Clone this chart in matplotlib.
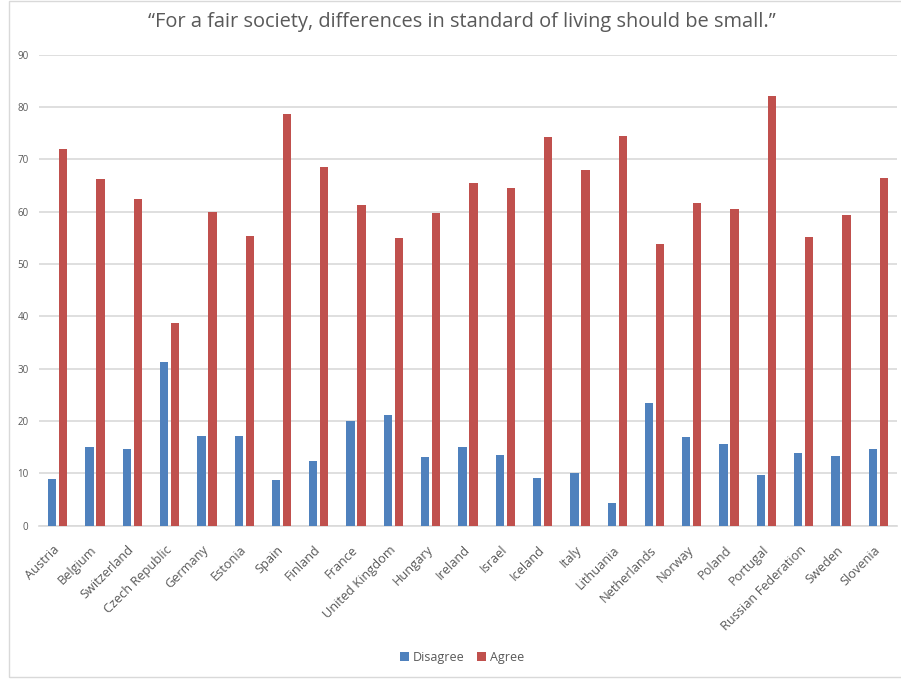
import matplotlib
matplotlib.use("Agg")
import matplotlib.pyplot as plt
import numpy as np
from matplotlib.patches import Rectangle

countries = ["Austria", "Belgium", "Switzerland", "Czech Republic", "Germany", "Estonia",
             "Spain", "Finland", "France", "United Kingdom", "Hungary", "Ireland", "Israel",
             "Iceland", "Italy", "Lithuania", "Netherlands", "Norway", "Poland", "Portugal",
             "Russian Federation", "Sweden", "Slovenia"]
disagree = [8.9, 15.1, 14.6, 31.3, 17.2, 17.1, 8.7, 12.4, 20.0, 21.2, 13.1, 15.1, 13.6,
            9.2, 10.1, 4.3, 23.4, 17.0, 15.6, 9.7, 13.8, 13.3, 14.7]
agree = [72.0, 66.2, 62.4, 38.7, 59.9, 55.4, 78.7, 68.6, 61.3, 55.0, 59.7, 65.4, 64.5,
         74.3, 68.0, 74.4, 53.8, 61.6, 60.6, 82.1, 55.2, 59.3, 66.5]
yticks = [0, 10, 20, 30, 40, 50, 60, 70, 80, 90]
title = "\u201cFor a fair society, differences in standard of living should be small.\u201d"

plt.rcParams['font.family'] = ['Open Sans', 'DejaVu Sans']
txt = '#595959'
W, H = 901, 679
fig = plt.figure(figsize=(W/100, H/100), dpi=100)

ax = fig.add_axes([39/W, (H-525.7)/H, (897-39)/W, (525.7-54.7)/H])
x = np.arange(len(countries))
bw = 0.223
ax.bar(x - 0.1475, disagree, bw, color='#4F81BD', label='Disagree', zorder=3)
ax.bar(x + 0.1475, agree, bw, color='#C0504D', label='Agree', zorder=3)
ax.set_xlim(-0.5, len(countries) - 0.5)
ax.set_ylim(0, 90)
ax.set_yticks(yticks)
ax.set_yticklabels([str(v) for v in yticks], fontsize=7, color=txt)
ax.grid(axis='y', color='#D9D9D9', linewidth=1.2, zorder=0)
for s in ['top', 'right', 'left']:
    ax.spines[s].set_visible(False)
ax.spines['bottom'].set_color('#D9D9D9')
ax.spines['bottom'].set_linewidth(1.2)
ax.tick_params(axis='both', length=0)
ax.tick_params(axis='y', pad=7.5)
ax.set_xticks(x)
ax.set_xticklabels(countries, rotation=45, ha='right', va='center', rotation_mode='anchor',
                   fontsize=9.2, color=txt)
ax.tick_params(axis='x', pad=16)

fig.text(462/W, 1 - 22/H, title, ha='center', va='center', fontsize=14.4, color=txt)

leg = fig.legend(loc='center', bbox_to_anchor=(462/W, 1 - 657/H), ncol=2, frameon=False,
                 fontsize=9, handlelength=0.7, handleheight=0.7, handletextpad=0.3,
                 columnspacing=1.0, labelcolor=txt)

fig.patches.append(Rectangle((8.5/W, 1 - 677/H), 1.2, 676.5/H,
                             transform=fig.transFigure, fill=False, edgecolor='#D9D9D9',
                             linewidth=1.0))
fig.savefig('out.png', dpi=100)
